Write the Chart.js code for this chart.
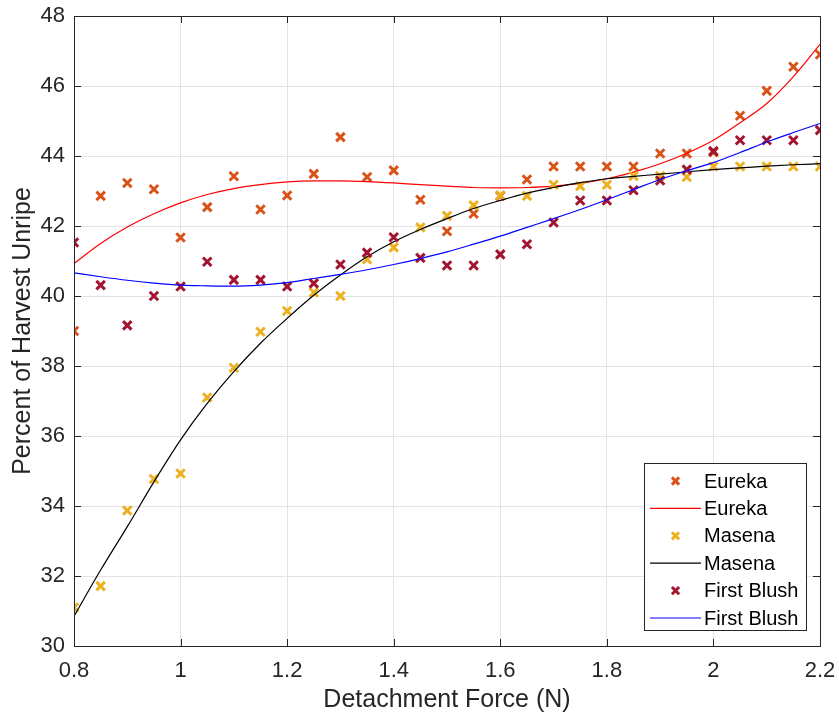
<!DOCTYPE html>
<html>
<head>
<meta charset="utf-8">
<script src="https://cdn.jsdelivr.net/npm/chart.js@4/dist/chart.umd.min.js"></script>
<style>
  html, body { margin: 0; padding: 0; background: #fff; }
  #chart { display: block; }
</style>
</head>
<body>
<canvas id="chart" width="839" height="719"></canvas>
<script>
// detachment force samples (N)
var forces = [0.8, 0.85, 0.9, 0.95, 1.0, 1.05, 1.1, 1.15, 1.2, 1.25, 1.3, 1.35, 1.4, 1.45, 1.5,
              1.55, 1.6, 1.65, 1.7, 1.75, 1.8, 1.85, 1.9, 1.95, 2.0, 2.05, 2.1, 2.15, 2.2]

// measured percent unripe
var eureka = [39.0, 42.86, 43.23, 43.05, 41.67, 42.54, 43.42, 42.47, 42.87, 43.49, 44.54, 43.40, 43.59, 42.75, 41.85,
              42.35, 42.86, 43.33, 43.70, 43.70, 43.70, 43.70, 44.07, 44.07, 44.11, 45.15, 45.86, 46.55, 46.90]
var masena = [31.1, 31.71, 33.87, 34.77, 34.93, 37.10, 37.95, 38.98, 39.57, 40.10, 40.0, 41.05, 41.39, 41.96, 42.29,
              42.59, 42.88, 42.86, 43.18, 43.14, 43.18, 43.43, 43.43, 43.40, 43.70, 43.70, 43.70, 43.70, 43.70]
var firstBlush = [41.53, 40.31, 39.16, 40.0, 40.27, 40.98, 40.46, 40.46, 40.27, 40.36, 40.90, 41.24, 41.68, 41.09, 40.87,
                  40.87, 41.19, 41.48, 42.10, 42.73, 42.73, 43.02, 43.30, 43.61, 44.14, 44.45, 44.45, 44.45, 44.74]

// fitted curves at the same forces
var eurekaFit = [40.93, 41.5, 41.97, 42.35, 42.66, 42.9, 43.07, 43.18, 43.26, 43.29, 43.29, 43.27, 43.23, 43.18, 43.14,
                 43.1, 43.09, 43.1, 43.14, 43.22, 43.35, 43.54, 43.78, 44.08, 44.45, 44.95, 45.5, 46.27, 47.19]
var masenaFit = [30.85, 32.17, 33.41, 34.69, 35.89, 36.93, 37.84, 38.65, 39.36, 40.02, 40.6, 41.12, 41.55, 41.9, 42.21,
                 42.5, 42.73, 42.94, 43.10, 43.24, 43.35, 43.42, 43.48, 43.55, 43.61, 43.66, 43.71, 43.75, 43.78]
var firstBlushFit = [40.66, 40.55, 40.45, 40.37, 40.31, 40.29, 40.28, 40.31, 40.38, 40.5, 40.62, 40.75, 40.9, 41.07, 41.26,
                     41.48, 41.71, 41.96, 42.21, 42.47, 42.75, 43.04, 43.33, 43.58, 43.81, 44.1, 44.4, 44.67, 44.93]

var xTicks = [0.8, 1, 1.2, 1.4, 1.6, 1.8, 2, 2.2]
var yTicks = [30, 32, 34, 36, 38, 40, 42, 44, 46, 48]

var FONT = "'Liberation Sans', Arial, sans-serif"
var AXIS_COLOR = '#262626'

function pts(ys) {
    return forces.map(function (x, i) { return {x: x, y: ys[i]} })
}

function scatterSet(label, data, color, order) {
    return {
        label: label,
        data: pts(data),
        showLine: false,
        pointStyle: 'crossRot',
        pointRadius: 6,
        pointHoverRadius: 6,
        borderWidth: 3,
        pointBorderWidth: 3,
        borderColor: color,
        backgroundColor: color,
        order: order,
        kind: 'marker'
    }
}

function lineSet(label, data, color, order) {
    return {
        label: label,
        data: pts(data),
        showLine: true,
        pointRadius: 0,
        pointHoverRadius: 0,
        borderWidth: 1.2,
        borderColor: color,
        backgroundColor: color,
        cubicInterpolationMode: 'monotone',
        order: order,
        kind: 'line'
    }
}

// frame round the plot with inward ticks, plus the legend box
var frameAndLegend = {
    id: 'frameAndLegend',
    afterDraw: function (chart) {
        var ctx = chart.ctx
        var a = chart.chartArea
        var xs = chart.scales.x, ys = chart.scales.y
        ctx.save()
        ctx.strokeStyle = AXIS_COLOR
        ctx.lineWidth = 1
        ctx.strokeRect(Math.round(a.left) + 0.5, Math.round(a.top) + 0.5,
                       Math.round(a.right - a.left), Math.round(a.bottom - a.top))
        var tl = 7
        ctx.beginPath()
        xTicks.forEach(function (v) {
            var px = Math.round(xs.getPixelForValue(v)) + 0.5
            ctx.moveTo(px, a.bottom); ctx.lineTo(px, a.bottom - tl)
            ctx.moveTo(px, a.top); ctx.lineTo(px, a.top + tl)
        })
        yTicks.forEach(function (v) {
            var py = Math.round(ys.getPixelForValue(v)) + 0.5
            ctx.moveTo(a.left, py); ctx.lineTo(a.left + tl, py)
            ctx.moveTo(a.right, py); ctx.lineTo(a.right - tl, py)
        })
        ctx.stroke()

        // legend
        var bx = 644.5, by = 463.5, bw = 162, bh = 167
        ctx.fillStyle = '#fff'
        ctx.fillRect(bx, by, bw, bh)
        ctx.strokeStyle = AXIS_COLOR
        ctx.strokeRect(bx, by, bw, bh)
        ctx.font = '20px ' + FONT
        ctx.textBaseline = 'middle'
        ctx.textAlign = 'left'
        chart.data.datasets.forEach(function (ds, i) {
            var cy = 481 + i * 27.4
            if (ds.kind === 'marker') {
                var r = 3.6, cx = 675.5
                ctx.strokeStyle = ds.borderColor
                ctx.lineWidth = 3
                ctx.beginPath()
                ctx.moveTo(cx - r, cy - r); ctx.lineTo(cx + r, cy + r)
                ctx.moveTo(cx - r, cy + r); ctx.lineTo(cx + r, cy - r)
                ctx.stroke()
            } else {
                ctx.strokeStyle = ds.borderColor
                ctx.lineWidth = 1.2
                ctx.beginPath()
                ctx.moveTo(650, cy); ctx.lineTo(701, cy)
                ctx.stroke()
            }
            ctx.fillStyle = '#000'
            ctx.fillText(ds.label, 704, cy + 1)
        })
        ctx.restore()
    }
}

var ctx = document.getElementById('chart').getContext('2d')
new Chart(ctx, {
    type: 'scatter',
    data: {
        datasets: [
            scatterSet('Eureka', eureka, '#D95319', 6),
            lineSet('Eureka', eurekaFit, '#FF0000', 5),
            scatterSet('Masena', masena, '#EDB120', 4),
            lineSet('Masena', masenaFit, '#000000', 3),
            scatterSet('First Blush', firstBlush, '#A2142F', 2),
            lineSet('First Blush', firstBlushFit, '#0000FF', 1)
        ]
    },
    options: {
        responsive: false,
        animation: false,
        layout: { padding: { top: 16, right: 19, left: 0, bottom: 0 } },
        plugins: {
            legend: { display: false },
            tooltip: { enabled: false }
        },
        scales: {
            x: {
                type: 'linear',
                min: 0.8,
                max: 2.2,
                afterBuildTicks: function (scale) {
                    scale.ticks = xTicks.map(function (v) { return {value: v} })
                },
                afterFit: function (scale) {
                    scale.height = 73
                    scale.paddingLeft = 0
                    scale.paddingRight = 0
                },
                ticks: {
                    font: { family: FONT, size: 22 },
                    color: AXIS_COLOR,
                    padding: 12,
                    maxRotation: 0,
                    callback: function (v) { return String(Math.round(v * 10) / 10) }
                },
                grid: { color: '#e3e3e3', drawTicks: false },
                border: { display: false },
                title: {
                    display: true,
                    text: 'Detachment Force (N)',
                    font: { family: FONT, size: 25 },
                    color: AXIS_COLOR,
                    padding: { top: 0, bottom: 4 }
                }
            },
            y: {
                type: 'linear',
                min: 30,
                max: 48,
                afterBuildTicks: function (scale) {
                    scale.ticks = yTicks.map(function (v) { return {value: v} })
                },
                afterFit: function (scale) {
                    scale.width = 74
                    scale.paddingTop = 0
                    scale.paddingBottom = 0
                },
                ticks: {
                    font: { family: FONT, size: 22 },
                    color: AXIS_COLOR,
                    padding: 9
                },
                grid: { color: '#e3e3e3', drawTicks: false },
                border: { display: false },
                title: {
                    display: true,
                    text: 'Percent of Harvest Unripe',
                    font: { family: FONT, size: 25 },
                    color: AXIS_COLOR,
                    padding: { top: 8, bottom: 0 }
                }
            }
        }
    },
    plugins: [frameAndLegend]
})
</script>
</body>
</html>
